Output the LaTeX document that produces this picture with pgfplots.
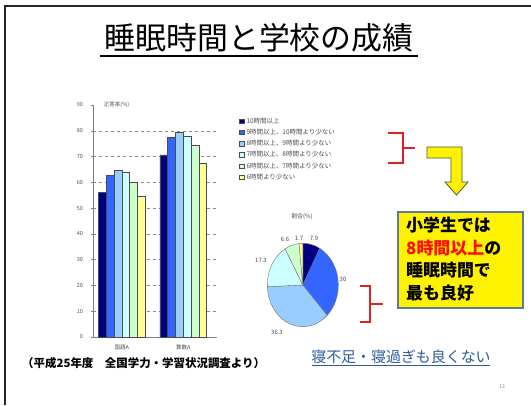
\documentclass[border=0pt]{standalone}
\usepackage{pgfplots}
\pgfplotsset{compat=1.18}
\usepackage{fontspec}
\setmainfont{Noto Sans CJK JP}
\definecolor{cA}{HTML}{000080}
\definecolor{cB}{HTML}{3366FF}
\definecolor{cC}{HTML}{99CCFF}
\definecolor{cD}{HTML}{CCFFFF}
\definecolor{cE}{HTML}{CCFFCC}
\definecolor{cF}{HTML}{FFFF99}
\definecolor{brk}{HTML}{E31E24}
\definecolor{boxbd}{HTML}{5A7A9E}
\definecolor{bluetxt}{HTML}{2E5C9A}
\newcommand\fs[1]{\fontsize{#1}{#1}\selectfont}
\newcommand\sector[3]{\fill[#3, draw=black!55, line width=0.4bp] (axis cs:0,0) -- (axis cs:{cos(90-3.6072*(#1))},{sin(90-3.6072*(#1))}) arc[start angle={90-3.6072*(#1)}, end angle={90-3.6072*(#1+#2)}, x radius=35.5bp, y radius=41.7bp] -- cycle;}
\pgfplotstableread{
grp  h10  h9   h8   h7   h6   h5
0    56.2 62.7 64.6 64.0 60.1 54.5
1    70.7 77.4 79.6 77.9 74.4 67.4
}\bars
\begin{document}
\begin{tikzpicture}[x=1bp,y=1bp]
\useasboundingbox (0,0) rectangle (531,405);
\fill[white] (0,0) rectangle (531,405);
% slide frame
\draw[black!85, line width=1.8bp] (5,0) -- (5,399) -- (531,399);
% title
\node[font=\fs{31}, anchor=center] at (259,367.5) {睡眠時間と学校の成績};
\draw[black, line width=1.5bp] (100,349) -- (418,349);
% bar chart
\begin{axis}[at={(93bp,68bp)}, anchor=south west, scale only axis,
  width=124bp, height=232bp,
  ybar=0pt, bar width=0.127,
  xmin=-0.47, xmax=1.55, ymin=0, ymax=90,
  ytick={0,10,...,90}, xtick={0,1}, xticklabels={国語A,算数A},
  extra y ticks={10,20,...,80}, extra y tick labels={},
  extra y tick style={ymajorgrids=true, major tick length=0pt},
  axis x line*=bottom, axis y line*=left,
  axis line style={black!50, line width=0.5bp},
  xtick style={draw=none},
  ytick style={black!50, line width=0.4bp},
  tick align=outside, major tick length=2.5bp,
  grid style={black!45, dashed, line width=0.4bp},
  /pgf/number format/assume math mode=true,
  yticklabel style={font=\fs{5.5}, text=black!70, xshift=-4bp},
  xticklabel style={font=\fs{5.5}, text=black!70, yshift=-2bp},
  every axis plot/.append style={draw=black!70, line width=0.35bp},
  legend cell align=left,
  legend image code/.code={\draw[#1, draw=black!70, line width=0.35bp] (0bp,-2.2bp) rectangle (4.5bp,2.2bp);},
  legend style={at={(1.177,0.95)}, anchor=north west, draw=none, fill=none,
    font=\fs{6.5}, text=black!70, inner sep=0pt, row sep=2.5bp,
    nodes={inner sep=1bp, text height=5.5bp, text depth=1.2bp},
    /tikz/every odd column/.append style={column sep=1.5bp}},
  clip=false,
]
\addplot[fill=cA] table[x=grp, y=h10] {\bars};
\addplot[fill=cB] table[x=grp, y=h9] {\bars};
\addplot[fill=cC] table[x=grp, y=h8] {\bars};
\addplot[fill=cD] table[x=grp, y=h7] {\bars};
\addplot[fill=cE] table[x=grp, y=h6] {\bars};
\addplot[fill=cF] table[x=grp, y=h5] {\bars};
\legend{10時間以上, 9時間以上、10時間より少ない, 8時間以上、9時間より少ない, 7時間以上、8時間より少ない, 6時間以上、7時間より少ない, 6時間より少ない}
\node[font=\fs{5.5}, text=black!70] at (rel axis cs:0.19,1.0) {正答率(\%)};
\end{axis}
% pie chart
\begin{axis}[at={(302.8bp,120bp)}, anchor=center, scale only axis,
  width=71bp, height=83.4bp, xmin=-1, xmax=1, ymin=-1, ymax=1,
  hide axis, clip=false]
\sector{0}{7.9}{cA}
\sector{7.9}{30.0}{cB}
\sector{37.9}{36.3}{cC}
\sector{74.2}{17.3}{cD}
\sector{91.5}{6.6}{cE}
\sector{98.1}{1.7}{cF}
\end{axis}
\begin{scope}[every node/.style={font=\fs{6}, text=black!70}]
\node at (302,188) {割合(\%)};
\node at (314,167) {7.9};
\node at (299,167) {1.7};
\node at (285,166) {6.6};
\node at (261,145) {17.3};
\node at (343,126) {30};
\node at (277,73) {36.3};
\end{scope}
% red brackets
\draw[brk, line width=2.6bp, line cap=butt, line join=miter] (388,272) -- (403,272) -- (403,242) -- (388,242);
\draw[brk, line width=2.6bp] (403,257) -- (415,257);
\draw[brk, line width=2.6bp, line join=miter] (360,119) -- (370,119) -- (370,83) -- (360,83);
\draw[brk, line width=2.6bp] (370,101) -- (383,101);
% yellow arrow
\filldraw[fill=yellow, draw=black!50!olive, line width=0.8bp, line join=miter]
 (427,258) -- (462,258) -- (462,223) -- (468,223) -- (456.5,210) -- (445,223) -- (451,223) -- (451,247) -- (427,247) -- cycle;
% yellow box
\filldraw[fill=yellow, draw=boxbd, line width=1.5bp] (398,193) rectangle (523,97);
\begin{scope}[every node/.style={font=\fs{17}\bfseries, anchor=west, inner sep=0pt}]
\node at (406,180) {小学生では};
\node at (406,157) {\textcolor{red!90!orange}{8時間以上}の};
\node at (406,135) {睡眠時間で};
\node at (406,112) {最も良好};
\end{scope}
% bottom texts
\node[font=\fs{11.5}\bfseries, anchor=west, inner sep=0pt] at (22,42) {（平成25年度　全国学力・学習状況調査より）};
\node[font=\fs{15}, text=bluetxt, anchor=center, inner sep=0pt] at (401,48) {寝不足・寝過ぎも良くない};
\draw[bluetxt, line width=0.9bp] (312,40) -- (490,40);
\node[font=\fs{5}, text=black!50] at (502,18) {13};
\end{tikzpicture}
\end{document}
